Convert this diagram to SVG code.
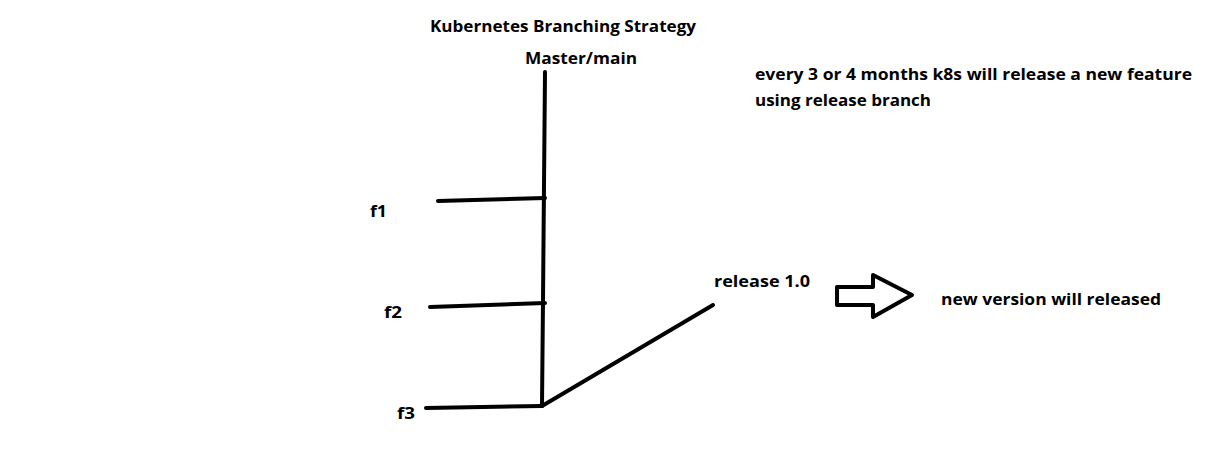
<svg xmlns="http://www.w3.org/2000/svg" width="1232" height="460" viewBox="0 0 1232 460">
<style>
text{font-family:"Open Sans","Noto Sans",sans-serif;font-weight:bold;font-size:16px;fill:#000}
.ln{stroke:#000;stroke-width:4;fill:none;stroke-linecap:round;stroke-linejoin:round}
</style>
<rect width="1232" height="460" fill="#fff"/>
<g id="title"><text x="430" y="32" textLength="266" lengthAdjust="spacingAndGlyphs">Kubernetes Branching Strategy</text></g>
<g id="master"><text x="525" y="64" textLength="112" lengthAdjust="spacingAndGlyphs">Master/main</text></g>
<g id="note"><text x="755" y="80" textLength="437" lengthAdjust="spacingAndGlyphs">every 3 or 4 months k8s will release a new feature</text><text x="755" y="106" textLength="176" lengthAdjust="spacingAndGlyphs">using release branch</text></g>
<g id="f1"><text x="370" y="217" textLength="17" lengthAdjust="spacingAndGlyphs">f1</text></g>
<g id="f2"><text x="384" y="318" textLength="18" lengthAdjust="spacingAndGlyphs">f2</text></g>
<g id="f3"><text x="397" y="419" textLength="18" lengthAdjust="spacingAndGlyphs">f3</text></g>
<g id="release"><text x="714" y="287" textLength="96" lengthAdjust="spacingAndGlyphs">release 1.0</text></g>
<g id="newversion"><text x="941" y="305" textLength="220" lengthAdjust="spacingAndGlyphs">new version will released</text></g>
<g id="connectors">
<path class="ln" d="M545 72 L543 300 L542 406"/>
<path class="ln" d="M438 201 L545 198"/>
<path class="ln" d="M430 307 L545 303"/>
<path class="ln" d="M426 408 L542 406"/>
<path class="ln" d="M542 406 L713 305"/>
<path class="ln" d="M837 287 L873 287 L873 275 L912 295 L873 317 L873 305 L837 305 Z"/>
</g>
</svg>
